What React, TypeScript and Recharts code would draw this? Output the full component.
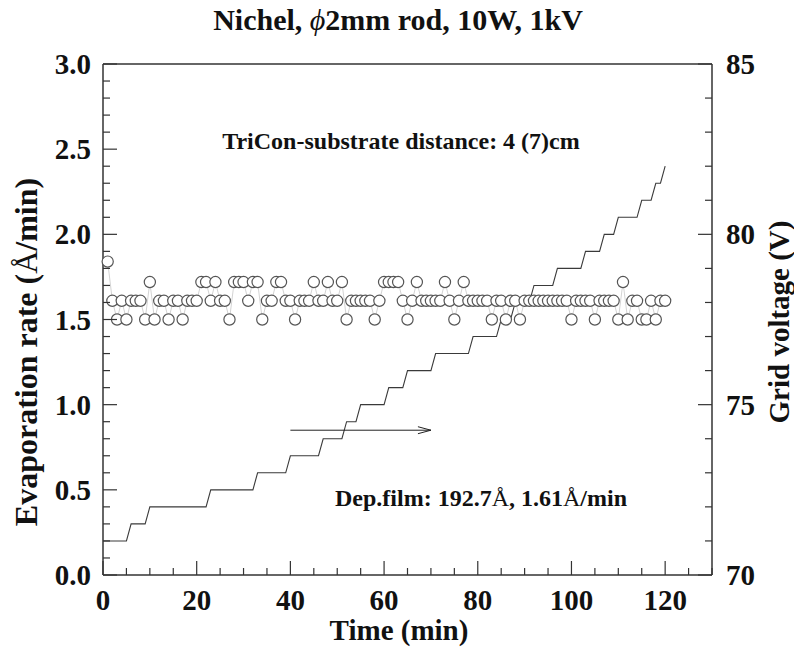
import React from 'react';
import { LineChart, Line, XAxis, YAxis, ReferenceLine } from 'recharts';

// evaporation rate (Å/min), one reading per minute, t = 1..120
const evaporationRate: number[] = [
  1.84, 1.61, 1.50, 1.61, 1.50, 1.61, 1.61, 1.61, 1.50, 1.72,
  1.50, 1.61, 1.61, 1.50, 1.61, 1.61, 1.50, 1.61, 1.61, 1.61,
  1.72, 1.72, 1.61, 1.72, 1.61, 1.61, 1.50, 1.72, 1.72, 1.72,
  1.61, 1.72, 1.72, 1.50, 1.61, 1.61, 1.72, 1.72, 1.61, 1.61,
  1.50, 1.61, 1.61, 1.61, 1.72, 1.61, 1.61, 1.72, 1.61, 1.61,
  1.72, 1.50, 1.61, 1.61, 1.61, 1.61, 1.61, 1.50, 1.61, 1.72,
  1.72, 1.72, 1.72, 1.61, 1.50, 1.61, 1.72, 1.61, 1.61, 1.61,
  1.61, 1.61, 1.72, 1.61, 1.50, 1.61, 1.72, 1.61, 1.61, 1.61,
  1.61, 1.61, 1.50, 1.61, 1.61, 1.50, 1.61, 1.61, 1.50, 1.61,
  1.61, 1.61, 1.61, 1.61, 1.61, 1.61, 1.61, 1.61, 1.61, 1.50,
  1.61, 1.61, 1.61, 1.61, 1.50, 1.61, 1.61, 1.61, 1.61, 1.50,
  1.72, 1.50, 1.61, 1.61, 1.50, 1.50, 1.61, 1.50, 1.61, 1.61,
];

// grid voltage (V), t = 0..120
const gridVoltage: number[] = [
  71, 71, 71, 71, 71, 71, 71.5, 71.5, 71.5, 71.5,
  72, 72, 72, 72, 72, 72, 72, 72, 72, 72,
  72, 72, 72, 72.5, 72.5, 72.5, 72.5, 72.5, 72.5, 72.5,
  72.5, 72.5, 72.5, 73, 73, 73, 73, 73, 73, 73,
  73.5, 73.5, 73.5, 73.5, 73.5, 73.5, 73.5, 74, 74, 74,
  74, 74, 74.5, 74.5, 74.5, 75, 75, 75, 75, 75,
  75, 75.5, 75.5, 75.5, 75.5, 76, 76, 76, 76, 76,
  76, 76.5, 76.5, 76.5, 76.5, 76.5, 76.5, 76.5, 76.5, 77,
  77, 77, 77, 77, 77, 77.5, 77.5, 77.5, 78, 78,
  78, 78, 78.5, 78.5, 78.5, 78.5, 78.5, 79, 79, 79,
  79, 79, 79, 79.5, 79.5, 79.5, 79.5, 80, 80, 80,
  80.5, 80.5, 80.5, 80.5, 80.5, 81, 81, 81, 81.5, 81.5,
  82,
];

const timeLabels = [0, 20, 40, 60, 80, 100, 120];
const rateLabels = [0, 0.5, 1, 1.5, 2, 2.5, 3];
const voltLabels = [70, 75, 80, 85];

// minor tick positions (every 5 min, every 0.1 Å/min, every 1 V)
const timeTicks = Array.from({ length: 27 }, (_, i) => i * 5);
const rateTicks = Array.from({ length: 31 }, (_, i) => i / 10);
const voltTicks = Array.from({ length: 16 }, (_, i) => 70 + i);

const data = gridVoltage.map((v, i) => ({
  time: i,
  rate: i === 0 ? null : evaporationRate[i - 1],
  voltage: v,
}));

const FONT = '"Liberation Serif", "Times New Roman", serif';
const AXIS = '#333';
const MAJOR = 14;
const MINOR = 7;
const TICK_FS = 29;

const isLabel = (list: number[], v: number) => list.some((l) => Math.abs(l - v) < 1e-6);

const BottomTick = (props: any) => {
  const { x, y, payload } = props;
  const v = payload.value;
  const major = isLabel(timeLabels, v);
  return (
    <g>
      <line x1={x} x2={x} y1={y} y2={y - (v % 20 === 0 ? MAJOR : MINOR)} stroke={AXIS} strokeWidth={1.2} />
      {major && (
        <text x={x} y={y + 35} textAnchor="middle" fontFamily={FONT} fontWeight="bold" fontSize={TICK_FS} fill="#111">
          {v}
        </text>
      )}
    </g>
  );
};

const LeftTick = (props: any) => {
  const { x, y, payload } = props;
  const v = payload.value;
  const major = isLabel(rateLabels, v);
  return (
    <g>
      <line x1={x} x2={x + (major ? MAJOR : MINOR)} y1={y} y2={y} stroke={AXIS} strokeWidth={1.2} />
      {major && (
        <text x={x - 12} y={y + 10} textAnchor="end" fontFamily={FONT} fontWeight="bold" fontSize={TICK_FS} fill="#111">
          {v.toFixed(1)}
        </text>
      )}
    </g>
  );
};

const RightTick = (props: any) => {
  const { x, y, payload } = props;
  const v = payload.value;
  const major = isLabel(voltLabels, v);
  return (
    <g>
      <line x1={x} x2={x - (major ? MAJOR : MINOR)} y1={y} y2={y} stroke={AXIS} strokeWidth={1.2} />
      {major && (
        <text x={x + 14} y={y + 10} textAnchor="start" fontFamily={FONT} fontWeight="bold" fontSize={TICK_FS} fill="#111">
          {v}
        </text>
      )}
    </g>
  );
};

const ArrowShape = (props: any) => {
  const { x1, y1, x2, y2 } = props;
  return (
    <g>
      <line x1={x1} y1={y1} x2={x2} y2={y2} stroke="#222" strokeWidth={1} />
      <line x1={x2} y1={y2} x2={x2 - 13} y2={y2 - 3.5} stroke="#222" strokeWidth={1} />
      <line x1={x2} y1={y2} x2={x2 - 13} y2={y2 + 3.5} stroke="#222" strokeWidth={1} />
    </g>
  );
};

const text = (extra: React.CSSProperties): React.CSSProperties => ({
  position: 'absolute',
  fontFamily: FONT,
  fontWeight: 'bold',
  color: '#111',
  whiteSpace: 'nowrap',
  lineHeight: 1,
  ...extra,
});

export default function App() {
  return (
    <div style={{ position: 'absolute', left: 0, top: 0, width: 794, height: 648, background: '#fff' }}>
      <LineChart width={794} height={648} data={data} margin={{ top: 64, right: 22, bottom: 33, left: 43 }}>
        <XAxis
          dataKey="time"
          type="number"
          domain={[0, 130]}
          ticks={timeTicks}
          interval={0}
          height={40}
          tickSize={0}
          tickMargin={0}
          tickLine={false}
          stroke={AXIS}
          strokeWidth={1.5}
          tick={<BottomTick />}
        />
        <YAxis
          yAxisId="rate"
          domain={[0, 3]}
          ticks={rateTicks}
          interval={0}
          width={60}
          tickSize={0}
          tickMargin={0}
          tickLine={false}
          stroke={AXIS}
          strokeWidth={1.5}
          tick={<LeftTick />}
        />
        <YAxis
          yAxisId="volt"
          orientation="right"
          domain={[70, 85]}
          ticks={voltTicks}
          interval={0}
          width={60}
          tickSize={0}
          tickMargin={0}
          tickLine={false}
          stroke={AXIS}
          strokeWidth={1.5}
          tick={<RightTick />}
        />
        <ReferenceLine yAxisId="rate" y={3} stroke={AXIS} strokeWidth={1.5} />
        <Line
          yAxisId="rate"
          dataKey="rate"
          type="linear"
          stroke="#c8c8c8"
          strokeWidth={0.8}
          dot={{ r: 5.6, fill: '#fff', stroke: '#555', strokeWidth: 1.2 }}
          isAnimationActive={false}
        />
        <Line
          yAxisId="volt"
          dataKey="voltage"
          type="linear"
          stroke="#3a3a3a"
          strokeWidth={1.1}
          dot={false}
          isAnimationActive={false}
        />
        <ReferenceLine
          yAxisId="rate"
          segment={[{ x: 40, y: 0.85 }, { x: 70, y: 0.85 }]}
          shape={<ArrowShape />}
        />
      </LineChart>

      <div style={text({ left: 398, top: 20, fontSize: 30, transform: 'translate(-50%, -50%)' })}>
        Nichel, <span style={{ fontStyle: 'italic', fontWeight: 'normal' }}>ϕ</span>2mm rod, 10W, 1kV
      </div>
      <div style={text({ left: 401, top: 141, fontSize: 24, transform: 'translate(-50%, -50%)' })}>
        TriCon-substrate distance: 4 (7)cm
      </div>
      <div style={text({ left: 481, top: 498, fontSize: 24, transform: 'translate(-50%, -50%)' })}>
        Dep.film: 192.7<span style={{ fontWeight: 'normal' }}>Å</span>, 1.61<span style={{ fontWeight: 'normal' }}>Å</span>/min
      </div>
      <div style={text({ left: 399, top: 630, fontSize: 29, transform: 'translate(-50%, -50%)' })}>Time (min)</div>
      <div style={text({ left: 26, top: 352, fontSize: 32, transform: 'translate(-50%, -50%) rotate(-90deg)' })}>
        Evaporation rate (<span style={{ fontWeight: 'normal' }}>Å</span>/min)
      </div>
      <div style={text({ left: 779, top: 322, fontSize: 29, transform: 'translate(-50%, -50%) rotate(-90deg)' })}>
        Grid voltage (V)
      </div>
    </div>
  );
}
